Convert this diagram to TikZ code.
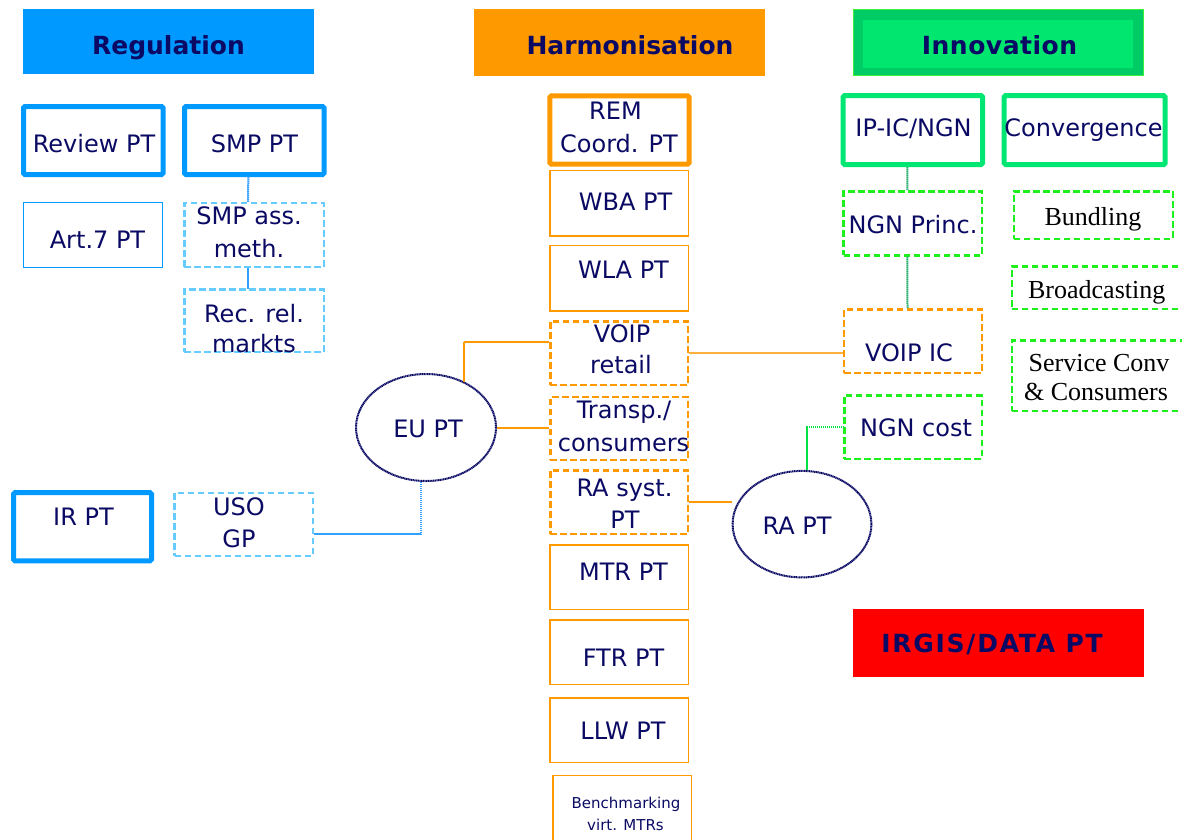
\documentclass[tikz,border=0pt]{standalone}
\usepackage{fontspec}
\setmainfont{DejaVu Sans}
\newfontfamily\serifft{Liberation Serif}
\usetikzlibrary{shapes.geometric}
\definecolor{navy}{RGB}{10,10,100}
\definecolor{regblue}{RGB}{0,153,255}
\definecolor{lblue}{RGB}{102,204,255}
\definecolor{cblue}{RGB}{50,160,255}
\definecolor{orng}{RGB}{255,153,0}
\definecolor{lorng}{RGB}{255,175,60}
\definecolor{innodark}{RGB}{0,204,102}
\definecolor{innolight}{RGB}{0,230,110}
\definecolor{innoline}{RGB}{60,240,60}
\definecolor{grn}{RGB}{0,230,115}
\definecolor{dgrn}{RGB}{30,240,30}
\definecolor{tgrn}{RGB}{40,175,110}
\definecolor{bgrn}{RGB}{0,225,70}
\definecolor{irred}{RGB}{255,0,0}
\begin{document}
\begin{tikzpicture}[x=1pt,y=-1pt,
  hdr/.style={rectangle, inner sep=0, minimum width=291pt, minimum height=66pt},
  thickbox/.style={rectangle, draw, line width=5pt, rounded corners=1.5pt, inner sep=0},
  thinbox/.style={rectangle, draw, line width=1.4pt, inner sep=0},
  dbox/.style={rectangle, draw, line width=2.5pt, dash pattern=on 6.5pt off 3.5pt, inner sep=0},
  oval/.style={ellipse, draw=navy, line width=2pt, dash pattern=on 1.2pt off 0.5pt, inner sep=0},
  txt/.style={anchor=base, text=navy, inner sep=0, font=\fontsize{24}{28}\selectfont},
  htxt/.style={anchor=base, text=navy, inner sep=0, font=\fontsize{25}{30}\selectfont\bfseries},
  stxt/.style={anchor=base, text=black, inner sep=0, font=\serifft\fontsize{26}{30}\selectfont},
  btxt/.style={anchor=base, text=navy, inner sep=0, font=\fontsize{15}{18}\selectfont},
  conn/.style={line width=2pt, dash pattern=on 1.5pt off 0.5pt}]
\useasboundingbox (0,0) rectangle (1182,839);
\clip (0,0) rectangle (1182,839);

% headers
\node[hdr, fill=regblue, minimum height=64.7pt] (reg) at (168.5,41.3) {};
\node[htxt] (regt) at (168.5,54.5) {Regulation};
\node[hdr, fill=orng, minimum height=66.4pt] (harm) at (619.5,42.5) {};
\node[htxt] (harmt) at (630,54.5) {Harmonisation};
\node[hdr, fill=innodark, draw=innoline, line width=1pt, minimum width=290pt, minimum height=65.4pt] (inno) at (998.8,42.5) {};
\fill[innolight] (863.3,20) rectangle (1133.3,68.3);
\node[htxt, font=\fontsize{25}{30}\selectfont\bfseries\addfontfeature{LetterSpace=2}] (innot) at (999.5,54.5) {Innovation};
\node[hdr, fill=irred, minimum height=67.4pt] (irgis) at (998.8,643) {};
\node[htxt, font=\fontsize{25}{30}\selectfont\bfseries\addfontfeature{LetterSpace=7}] (irgist) at (992,652) {IRGIS/DATA PT};

% Regulation column
\node[thickbox, draw=regblue, minimum width=139.7pt, minimum height=68pt] (review) at (93.35,140.5) {};
\node[txt] (reviewt) at (94,152) {Review PT};
\node[thickbox, draw=regblue, minimum width=139.7pt, minimum height=68pt] (smp) at (254.35,140.5) {};
\node[txt] (smpt) at (254.5,152) {SMP PT};
\node[thinbox, draw=regblue, minimum width=139pt, minimum height=65.3pt] (art7) at (93.15,235) {};
\node[txt] (art7t) at (97.5,248) {Art.7 PT};
\node[dbox, draw=lblue, minimum width=139.5pt, minimum height=64pt] (smpass) at (254,235) {};
\node[txt] (smpasst1) at (249,224) {SMP ass.};
\node[txt] (smpasst2) at (249,257) {meth.};
\node[dbox, draw=lblue, minimum width=139.5pt, minimum height=62.5pt] (rec) at (254,320.8) {};
\node[txt] (rect1) at (254,322) {Rec. rel.};
\node[txt] (rect2) at (254,352) {markts};
\node[thickbox, draw=regblue, minimum width=138pt, minimum height=68.3pt] (irpt) at (82.5,526.7) {};
\node[txt] (irptt) at (83.5,525.7) {IR PT};
\node[dbox, draw=lblue, minimum width=138.2pt, minimum height=63.1pt] (uso) at (243.65,524.5) {};
\node[txt] (usot1) at (239,515.7) {USO};
\node[txt] (usot2) at (239,547) {GP};

% ovals
\node[oval, minimum width=140pt, minimum height=107pt] (eu) at (426,427.5) {};
\node[txt] (eut) at (428,437) {EU PT};
\node[oval, minimum width=138.8pt, minimum height=106.5pt] (ra) at (802,524.15) {};
\node[txt] (rat) at (797,534) {RA PT};

% Harmonisation column
\node[thickbox, draw=orng, minimum width=139.4pt, minimum height=68.4pt] (rem) at (619.5,130) {};
\node[txt] (remt1) at (615.5,119) {REM};
\node[txt] (remt2) at (619,152) {Coord. PT};
\node[thinbox, draw=orng, minimum width=138.7pt, minimum height=65.4pt] (wba) at (619.3,203.35) {};
\node[txt] (wbat) at (625.5,210.7) {WBA PT};
\node[thinbox, draw=orng, minimum width=138.7pt, minimum height=65.4pt] (wla) at (619.3,278.35) {};
\node[txt] (wlat) at (623.5,278) {WLA PT};
\node[dbox, draw=orng, minimum width=137.8pt, minimum height=63.5pt] (voipr) at (619.15,353) {};
\node[txt] (voiprt1) at (622,342) {VOIP};
\node[txt] (voiprt2) at (621,373) {retail};
\node[dbox, draw=orng, minimum width=137.8pt, minimum height=62.8pt] (transp) at (619.15,428.35) {};
\node[txt] (transpt1) at (624,418) {Transp./};
\node[txt] (transpt2) at (623.5,451) {consumers};
\node[dbox, draw=orng, minimum width=137.8pt, minimum height=63.5pt] (rasyst) at (619.15,502) {};
\node[txt] (rasystt1) at (624.5,496.7) {RA syst.};
\node[txt] (rasystt2) at (625,528) {PT};
\node[thinbox, draw=orng, minimum width=138.7pt, minimum height=64.4pt] (mtr) at (619.3,577.15) {};
\node[txt] (mtrt) at (623.5,580) {MTR PT};
\node[thinbox, draw=orng, minimum width=138.7pt, minimum height=64.4pt] (ftr) at (619.3,652.15) {};
\node[txt] (ftrt) at (623.5,666) {FTR PT};
\node[thinbox, draw=orng, minimum width=138.7pt, minimum height=64.4pt] (llw) at (619.3,730) {};
\node[txt] (llwt) at (623,739) {LLW PT};
\node[thinbox, draw=orng, minimum width=138.7pt, minimum height=65.4pt] (bench) at (622.3,808) {};
\node[btxt] (bencht1) at (626,808) {Benchmarking};
\node[btxt] (bencht2) at (625.5,830) {virt. MTRs};

% Innovation column
\node[thickbox, draw=grn, minimum width=139.3pt, minimum height=69pt] (ipic) at (912.85,130) {};
\node[txt] (ipict) at (913.5,136.7) {IP-IC/NGN};
\node[thickbox, draw=grn, minimum width=161pt, minimum height=69pt] (conv) at (1084.7,130) {};
\node[txt] (convt) at (1083.5,136) {Convergence};
\node[dbox, draw=dgrn, minimum width=138.5pt, minimum height=64.2pt] (ngnp) at (912.8,223.35) {};
\node[txt] (ngnpt) at (913,233) {NGN Princ.};
\node[dbox, draw=orng, minimum width=138pt, minimum height=63.2pt] (voipic) at (913,341.15) {};
\node[txt] (voipict) at (909,361.7) {VOIP IC};
\node[dbox, draw=dgrn, minimum width=137.5pt, minimum height=63.2pt] (ngncost) at (913,427.15) {};
\node[txt] (ngncostt) at (916,436.7) {NGN cost};
\node[dbox, draw=dgrn, minimum width=159.2pt, minimum height=47.5pt] (bund) at (1093.35,215) {};
\node[stxt] (bundt) at (1093,225) {Bundling};
\node[dbox, draw=dgrn, minimum width=181.8pt, minimum height=42.5pt] (broad) at (1102.85,287.5) {};
\node[stxt] (broadt) at (1096.7,298) {Broadcasting};
\node[dbox, draw=dgrn, minimum width=181.8pt, minimum height=70.5pt] (serv) at (1102.85,375.8) {};
\node[stxt] (servt1) at (1099,371.7) {Service Conv};
\node[stxt] (servt2) at (1096,400) {\& Consumers};

% connectors
\draw[conn, cblue] ([xshift=-6pt]smp.south) -- ([xshift=-6pt]smpass.north);
\draw[conn, cblue] ([xshift=-6pt]smpass.south) -- ([xshift=-6pt]rec.north);
\draw[conn, cblue] ([yshift=-9.8pt]uso.east) -| ([xshift=-5pt]eu.south);
\draw[conn, orng] (eu.50) |- ([yshift=11.3pt]voipr.west);
\draw[conn, orng] (eu.east) -- (eu.east -| transp.west);
\draw[line width=1.4pt, lorng] (voipr.east) -- (voipr.east -| voipic.west);
\draw[conn, orng] (rasyst.east) -- (rasyst.east -| ra.west);
\draw[conn, bgrn] ([xshift=5.3pt]ra.north) |- (ngncost.west);
\draw[conn, tgrn] ([xshift=-5.5pt]ipic.south) -- ([xshift=-5.5pt]ngnp.north);
\draw[conn, tgrn] ([xshift=-5.5pt]ngnp.south) -- ([xshift=-5.5pt]voipic.north);
\end{tikzpicture}
\end{document}
